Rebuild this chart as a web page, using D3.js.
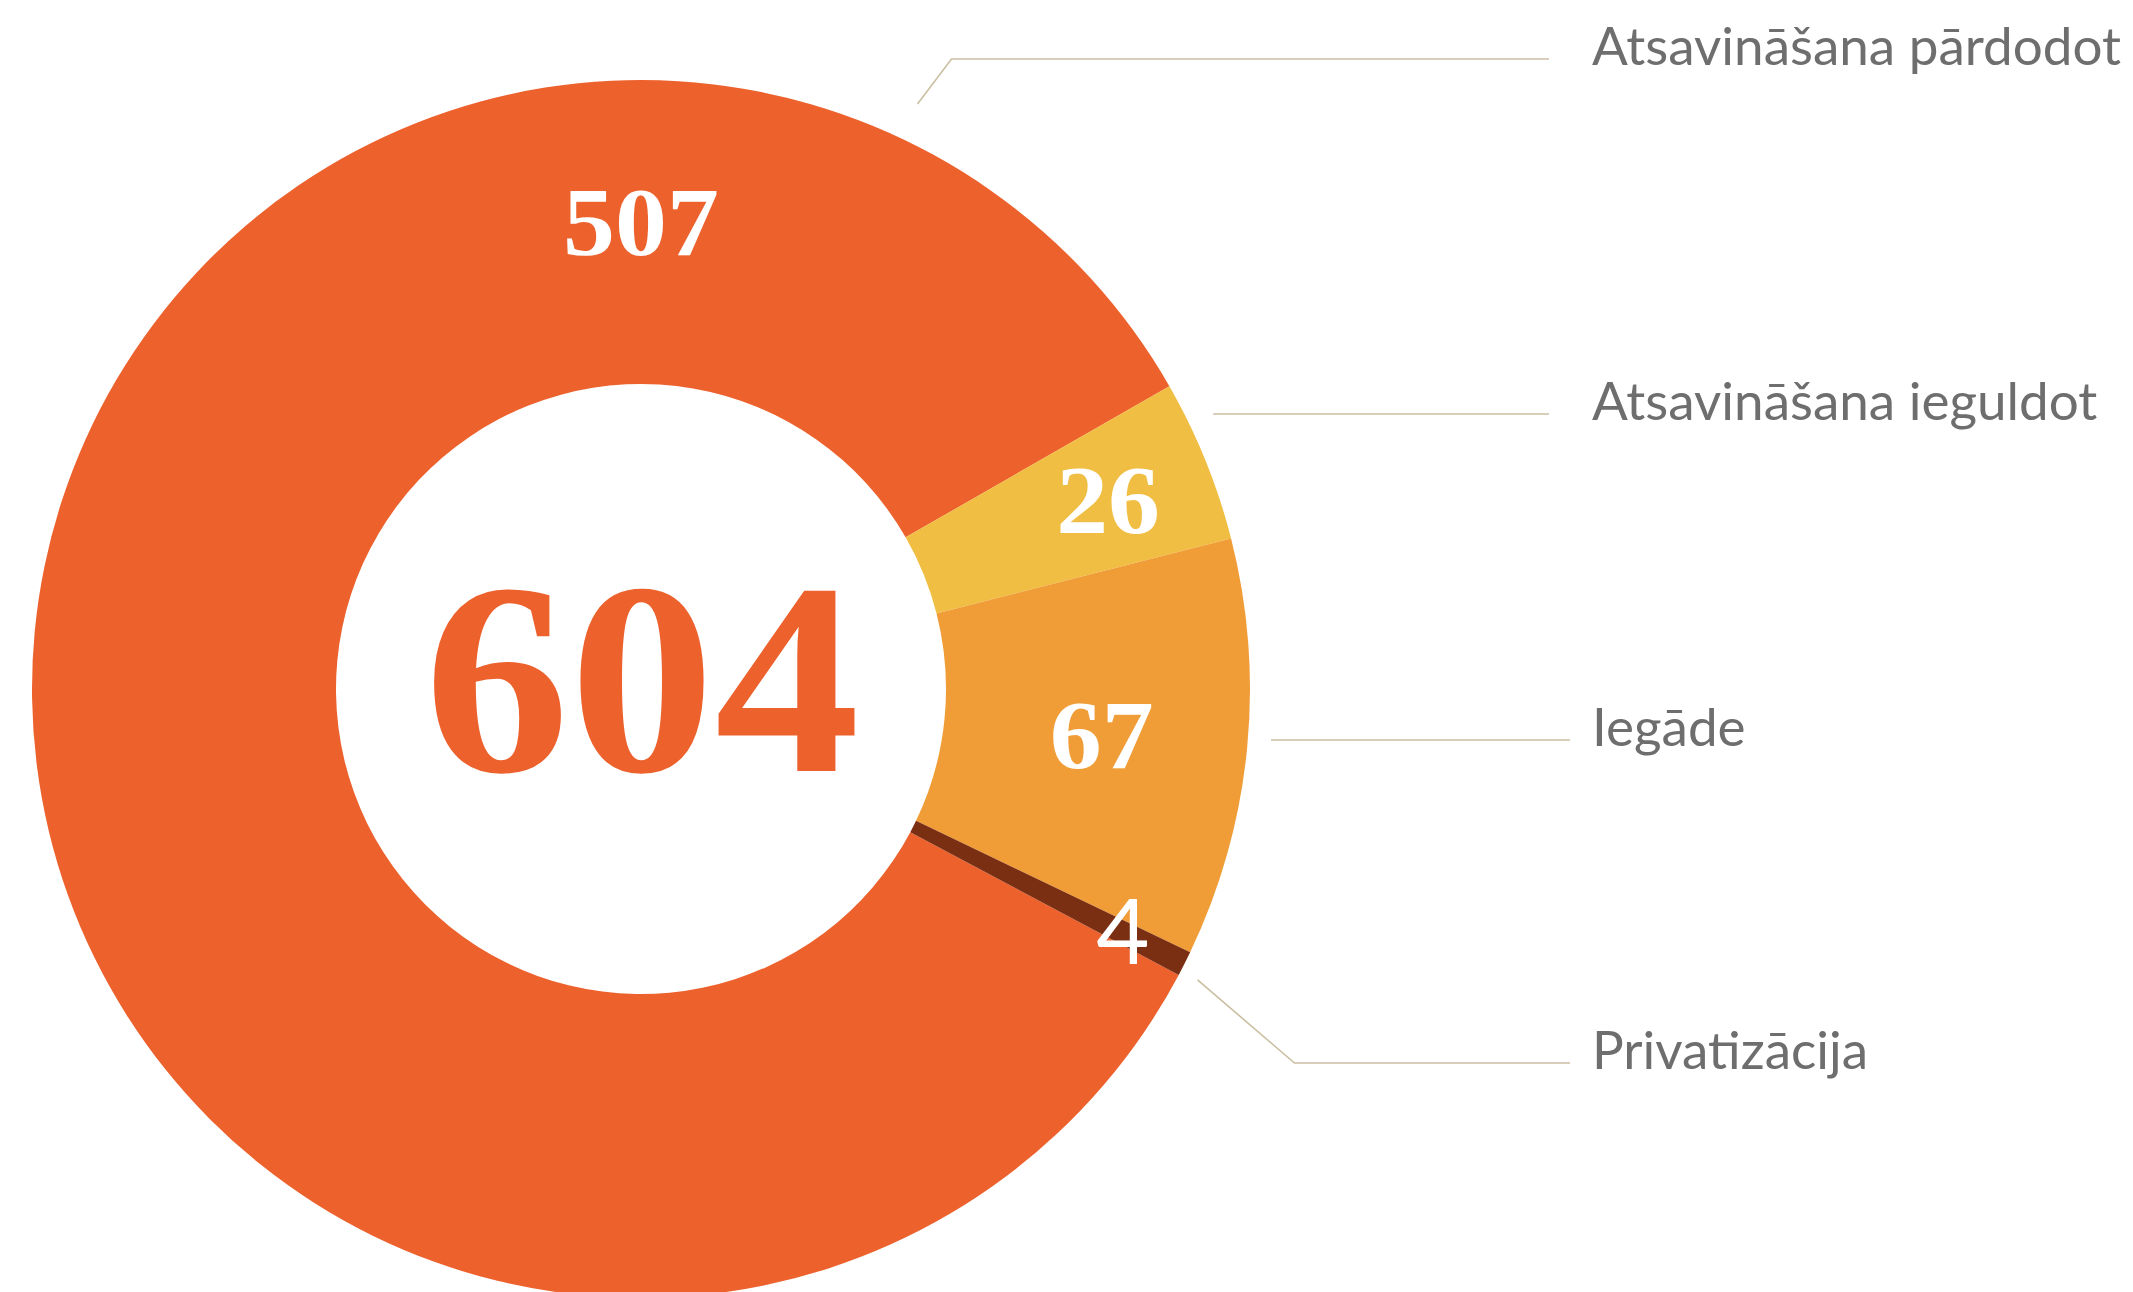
<!DOCTYPE html>
<html>
<head>
<meta charset="utf-8">
<script src="https://cdn.jsdelivr.net/npm/d3@7"></script>
<style>
  body { margin: 0; background: #fff; }
  svg { display: block; }
</style>
</head>
<body>
<script>
// data
const categories = ["Atsavināšana pārdodot", "Atsavināšana ieguldot", "Iegāde", "Privatizācija"];
const values = [507, 26, 67, 4];
const colors = ["#ED612D", "#F0BE42", "#F09C37", "#7A2E12"];

const width = 2133, height = 1292;
const cx = 641, cy = 689;
const outerR = 609, innerR = 305;
const deg = Math.PI / 180;

// label placement (per slice): value label radius, leader line start, label row
const layout = [
  { labelR: 467, atTop: true,  leadA: 25.3,  leadR: 647, elbowDx: 34, lineY: 59,   lineEnd: 1549 },
  { labelR: 504, atTop: false, leadA: 64.3,  leadR: 635, elbowDx: 0,  lineY: 414,  lineEnd: 1549 },
  { labelR: 463, atTop: false, leadA: 85.4,  leadR: 632, elbowDx: 0,  lineY: 740,  lineEnd: 1570 },
  { labelR: 540, atTop: false, leadA: 117.6, leadR: 628, elbowDx: 97, lineY: 1063, lineEnd: 1570 }
];

const svg = d3.select("body").append("svg")
  .attr("width", width).attr("height", height);

const g = svg.append("g").attr("transform", `translate(${cx},${cy})`);

const startA = -242 * deg;
const pie = d3.pie().sort(null).value(d => d)
  .startAngle(startA).endAngle(startA + 2 * Math.PI);
const arcs = pie(values);

const arc = d3.arc().innerRadius(innerR).outerRadius(outerR);

g.selectAll("path.slice").data(arcs).enter().append("path")
  .attr("class", "slice")
  .attr("d", arc)
  .attr("fill", (d, i) => colors[i]);

// value labels
const polar = (a, r) => [Math.sin(a) * r, -Math.cos(a) * r];

g.selectAll("text.val").data(arcs).enter().append("text")
  .attr("class", "val")
  .attr("transform", (d, i) => {
    const a = layout[i].atTop ? 0 : (d.startAngle + d.endAngle) / 2;
    const p = polar(a, layout[i].labelR);
    return `translate(${p[0]},${p[1]}) scale(${i === 3 ? 1 : 1.06},1)`;
  })
  .attr("text-anchor", "middle")
  .attr("dy", "0.34em")
  .attr("fill", "#fff")
  .style("font-family", (d, i) => i === 3 ? "Lato, sans-serif" : "'Liberation Serif', serif")
  .style("font-weight", (d, i) => i === 3 ? "normal" : "bold")
  .style("font-size", (d, i) => i === 3 ? "92px" : "98px")
  .text(d => d.data);

// total in the middle
g.append("text")
  .attr("transform", "translate(1,82) scale(1.06,1)")
  .attr("text-anchor", "middle")
  .attr("fill", colors[0])
  .style("font-family", "'Liberation Serif', serif")
  .style("font-weight", "bold")
  .style("font-size", "274px")
  .text(d3.sum(values));

// leader lines
const line = d3.line();
svg.selectAll("path.lead").data(layout).enter().append("path")
  .attr("class", "lead")
  .attr("d", d => {
    const p = polar(d.leadA * deg, d.leadR);
    const s = [cx + p[0], cy + p[1]];
    const pts = [s];
    if (d.elbowDx) pts.push([s[0] + d.elbowDx, d.lineY]);
    else s[1] = d.lineY;
    pts.push([d.lineEnd, d.lineY]);
    return line(pts);
  })
  .attr("fill", "none")
  .attr("stroke", "#CBBFA2")
  .attr("stroke-width", 1.6);

// category labels
svg.selectAll("text.cat").data(categories).enter().append("text")
  .attr("class", "cat")
  .attr("x", 1592)
  .attr("y", (d, i) => layout[i].lineY + 6)
  .attr("fill", "#6E6E6E")
  .style("font-family", "Lato, sans-serif")
  .style("font-size", "53px")
  .text(d => d);
</script>
</body>
</html>
